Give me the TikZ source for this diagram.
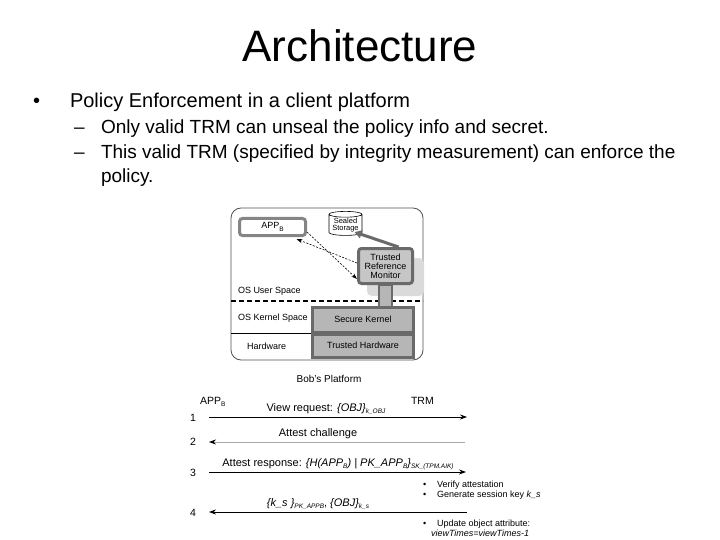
\documentclass[tikz,border=0pt]{standalone}
\usepackage{fontspec}
\setmainfont{Liberation Sans}
\usetikzlibrary{arrows.meta,shapes.geometric,calc}
\newcommand\myfs[1]{\fontsize{#1}{#1}\selectfont}
\newcommand\sbx[1]{\raisebox{-2.2pt}{\fontsize{6.5}{7}\selectfont #1}}
\definecolor{bord}{HTML}{6A6A6A}
\definecolor{appbord}{HTML}{858585}
\definecolor{trmfill}{HTML}{C6C6C6}
\definecolor{kfill}{HTML}{B6B6B6}
\definecolor{shad}{HTML}{DADADA}
\definecolor{outer}{HTML}{505050}
\definecolor{lgray}{HTML}{A8A8A8}
\begin{document}
\begin{tikzpicture}[x=1pt,y=-1pt,
  txt/.style={inner sep=0pt, outer sep=0pt},
  big/.style={txt, font=\myfs{20}},
  sub/.style={txt, font=\myfs{19}},
  small/.style={txt, font=\myfs{9}},
  seq/.style={txt, font=\myfs{10.5}},
  seqlab/.style={txt, font=\myfs{11}},
  thickbox/.style={draw=bord, line width=3pt, inner sep=0pt, font=\myfs{9}, align=center},
  seqarrow/.style={line width=0.8pt, -{Stealth[length=7pt,width=5pt]}},
]
\useasboundingbox (0,0) rectangle (720,540);

% ---------- slide text ----------
\node[txt, font=\myfs{44}, anchor=base] (title) at (360,62) {Architecture};
\node[big, anchor=base west] (b1dot) at (33,108) {•};
\node[big, anchor=base west] (b1) at (70,108) {Policy Enforcement in a client platform};
\node[sub, anchor=base west] (d1) at (74,134) {–};
\node[sub, anchor=base west] (s1) at (101,134) {Only valid TRM can unseal the policy info and secret.};
\node[sub, anchor=base west] (d2) at (74,159) {–};
\node[sub, anchor=base west] (s2) at (101,159) {This valid TRM (specified by integrity measurement) can enforce the};
\node[sub, anchor=base west] (s3) at (101,183) {policy.};

% ---------- platform ----------
\draw[draw=outer, line width=0.8pt, rounded corners=10pt] (231,208) rectangle (423,360);
\coordinate (dl) at (231,301);
\coordinate (dr) at (423,301);
\draw[line width=1.6pt, dash pattern=on 5pt off 3pt] (dl) -- (dr);
\coordinate (hl) at (231,333);
\coordinate (hr) at (311,333);
\draw[line width=1pt] (hl) -- (hr);

\node[small, anchor=west] (ous) at (238,291) {OS User Space};
\node[small, anchor=west] (oks) at (238,318) {OS Kernel Space};
\node[small, anchor=west] (hw) at (247,346) {Hardware};

% shadow of TRM
\fill[shad, rounded corners=5pt] (367,258) rectangle (424,296);
% connecting bar
\node[draw=bord, fill=kfill, line width=1.5pt, minimum width=13pt, minimum height=22pt, inner sep=0pt] (bar) at (385.5,296) {};
\node[thickbox, fill=kfill, minimum width=101pt, minimum height=25pt] (sk) at (363,319.5) {Secure Kernel};
\node[thickbox, fill=kfill, minimum width=101pt, minimum height=23pt] (th) at (363,345.5) {Trusted Hardware};
\node[thickbox, fill=trmfill, rounded corners=3pt, minimum width=54pt, minimum height=35pt, font=\myfs{9}, align=center] (trm) at (385.5,266)
  {\baselineskip=11pt Trusted\\Reference\\Monitor};
\node[draw=appbord, fill=white, line width=3pt, rounded corners=3pt, minimum width=66pt, minimum height=17pt, inner sep=0pt, font=\myfs{9}] (app) at (272.5,227) {APP\sbx{B}};
\node[cylinder, shape border rotate=90, aspect=0.22, draw=black, line width=0.6pt, fill=white,
  minimum width=33pt, minimum height=24pt, inner sep=0pt, font=\myfs{7.5}, align=center] (stor) at (345.5,225)
  {\baselineskip=8.5pt Sealed\\Storage};

% arrows in platform
\draw[line width=3pt, draw=bord, -{Triangle[length=7pt,width=8pt]}] ([xshift=13pt]trm.north) -- ([xshift=-1pt,yshift=3pt]stor.south east);
\draw[line width=0.6pt, dash pattern=on 2pt off 1.5pt, -{Stealth[length=6pt,width=4pt]}] ([yshift=-5pt]app.east) -- ([yshift=-13pt]trm.west);
\draw[line width=0.6pt, dash pattern=on 2pt off 1.5pt, -{Stealth[length=6pt,width=4pt]}] ([yshift=3pt]trm.west) -- ([xshift=24pt,yshift=-2pt]app.south);

\node[txt, font=\myfs{10}] (bob) at (329,379) {Bob's Platform};

% ---------- sequence diagram ----------
\node[seq, anchor=base west] (appbh) at (200,404) {APP\sbx{B}};
\node[seq, anchor=base west] (trmh) at (411,404) {TRM};

\node[seq] (n1) at (193,418) {1};
\node[seq] (n2) at (193,442) {2};
\node[seq] (n3) at (193,473) {3};
\node[seq] (n4) at (193,513) {4};

\coordinate (l1) at (209,417); \coordinate (r1) at (467,417);
\coordinate (l2) at (209,442); \coordinate (r2) at (465,442);
\coordinate (l3) at (209,472); \coordinate (r3) at (466,472);
\coordinate (l4) at (209,512); \coordinate (r4) at (467,512);

\draw[seqarrow] (l1) -- (r1);
\draw[seqarrow, draw=lgray, arrows={-{Stealth[length=7pt,width=5pt,color=black]}}] (r2) -- (l2);
\draw[seqarrow] (l3) -- (r3);
\draw[seqarrow] (r4) -- (l4);

\node[seqlab, anchor=base] (lab1) at (326,411) {View request: \textit{\{OBJ\}}\sbx{\textit{k\_OBJ}}};
\node[seqlab, anchor=base] (lab2) at (318,436) {Attest challenge};
\node[seqlab, anchor=base] (lab3) at (338,466) {Attest response: \textit{\{H(APP\sbx{B}) | PK\_APP\sbx{B}\}}\sbx{\textit{SK\_(TPM.AIK)}}};
\node[seqlab, anchor=base] (lab4) at (318,506) {\textit{\{k\_s \}}\sbx{\textit{PK\_APPB}}, \textit{\{OBJ\}}\sbx{\textit{k\_s}}};

\node[small, anchor=base west] (bd1) at (423,487) {•};
\node[small, anchor=base west] (bt1) at (437,487) {Verify attestation};
\node[small, anchor=base west] (bd2) at (423,497) {•};
\node[small, anchor=base west] (bt2) at (437,497) {Generate session key \textit{k\_s}};
\node[small, anchor=base west] (bd3) at (423,526) {•};
\node[small, anchor=base west] (bt3) at (437,526) {Update object attribute:};
\node[small, anchor=base west] (bt4) at (431,536) {\textit{viewTimes=viewTimes-1}};
\end{tikzpicture}
\end{document}
